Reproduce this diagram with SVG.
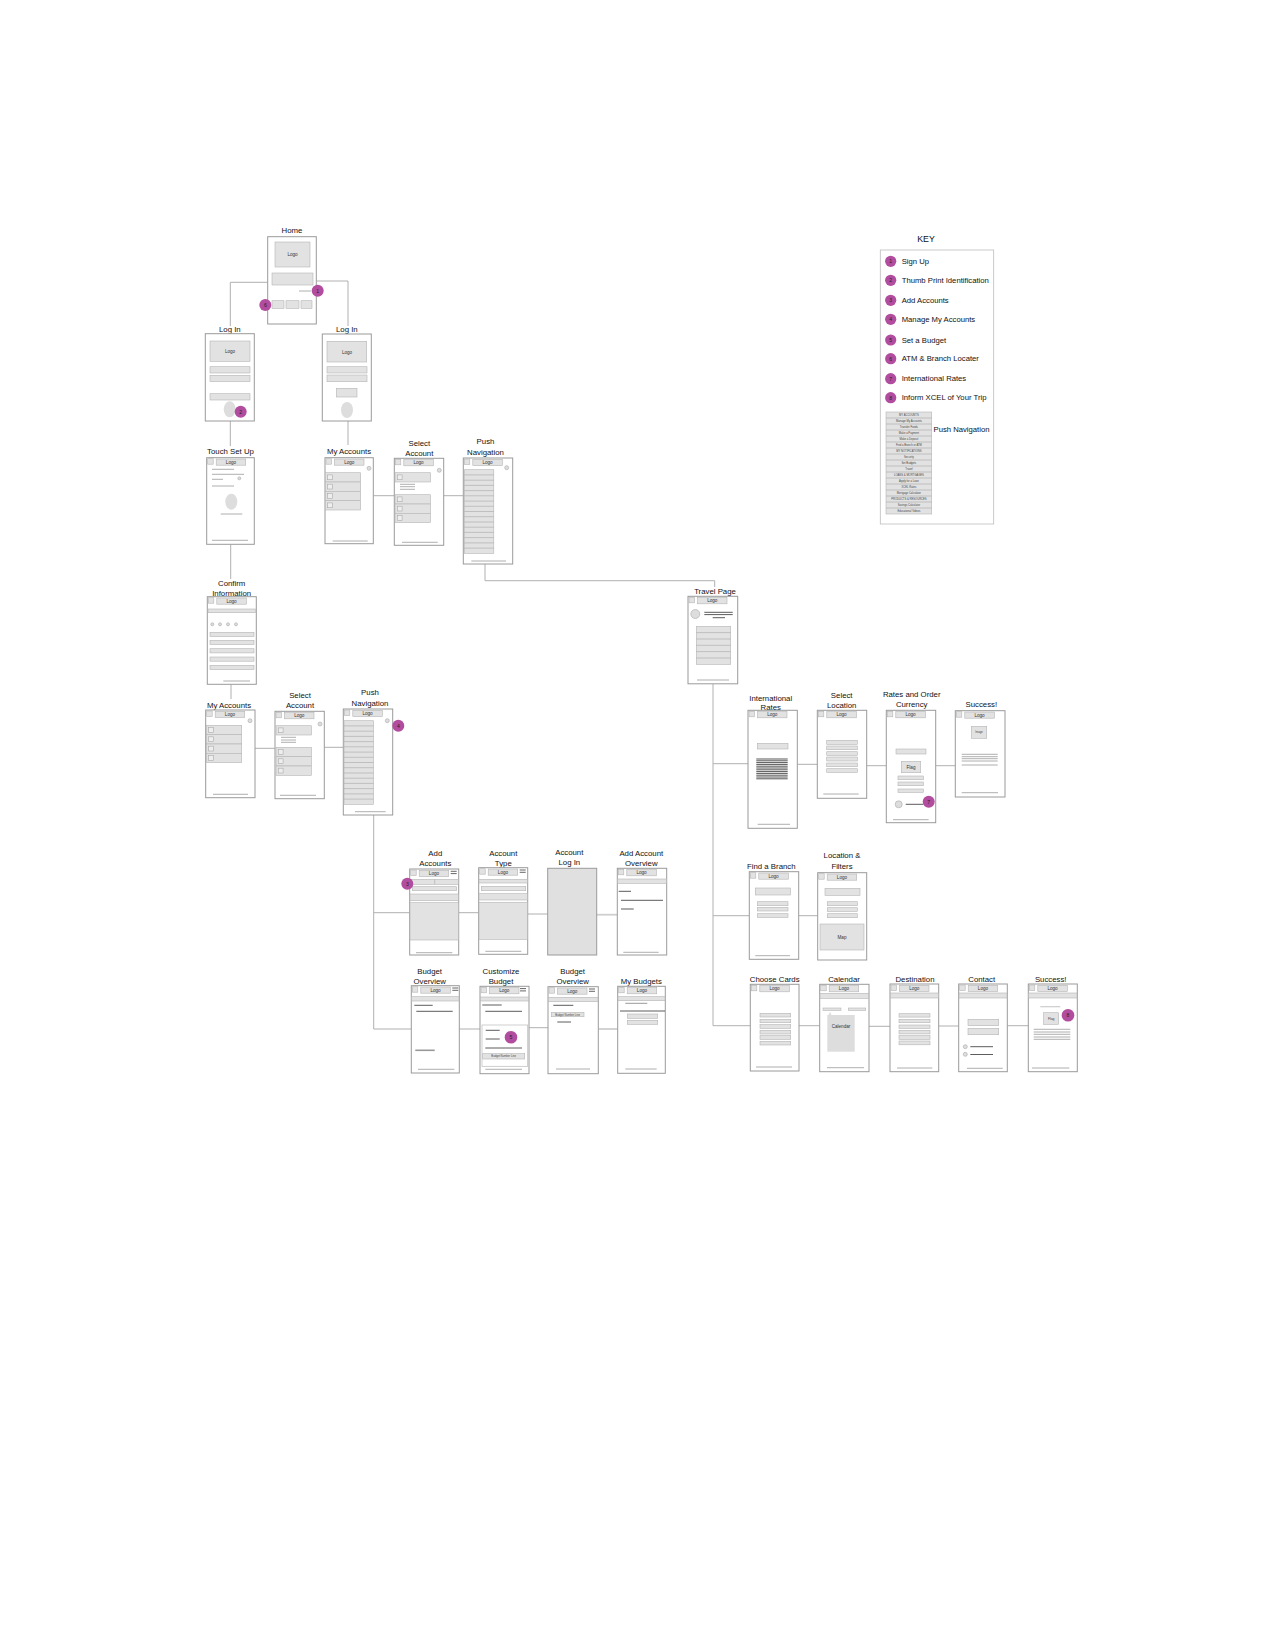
<svg xmlns="http://www.w3.org/2000/svg" xmlns:xlink="http://www.w3.org/1999/xlink" width="1275" height="1650" viewBox="0 0 1275 1650">
<style>
.fr{fill:#fff;stroke:#9a9a9a;stroke-width:1}
.g{fill:#e2e2e2;stroke:#b5b5b5;stroke-width:0.6}
.sep{stroke:#a8a8a8;stroke-width:0.6;fill:none}
.ln{stroke:#9a9a9a;stroke-width:0.8;fill:none}
.dk{stroke:#4a4a4a;stroke-width:0.9;fill:none}
.gl{stroke:#999;stroke-width:1.6;fill:none}
.conn{stroke:#b0b0b0;stroke-width:1;fill:none}
.connw{stroke:#cfcfcf;stroke-width:1.8;fill:none}
.lbl{font-family:"Liberation Sans",Arial,sans-serif;font-size:7.8px;fill:#111;text-anchor:middle}
.lt{font-family:"Liberation Sans",Arial,sans-serif;font-size:4.6px;fill:#333;text-anchor:middle}
.tiny{font-family:"Liberation Sans",Arial,sans-serif;font-size:2.7px;fill:#444;text-anchor:middle}
.bd{fill:#b24c9e}
.bt{font-family:"Liberation Sans",Arial,sans-serif;font-size:5px;fill:#222;text-anchor:middle}
.kt{font-family:"Liberation Sans",Arial,sans-serif;font-size:7.7px;fill:#111}
.gear{fill:#ddd;stroke:#aaa;stroke-width:0.6}
</style>
<defs>
<g id="hdr"><rect x="1" y="1" width="5.5" height="5.5" class="g"/><rect x="9.5" y="1.3" width="29.5" height="6.2" class="g"/><text x="24.25" y="5.9" class="lt">Logo</text></g>
<g id="nav"><rect width="29.5" height="83.6" class="g"/><path class="sep" d="M0,5.2H29.5M0,10.5H29.5M0,15.7H29.5M0,20.9H29.5M0,26.1H29.5M0,31.4H29.5M0,36.6H29.5M0,41.8H29.5M0,47H29.5M0,52.3H29.5M0,57.5H29.5M0,62.7H29.5M0,67.9H29.5M0,73.2H29.5M0,78.4H29.5"/></g>
<g id="row"><rect width="35.4" height="9.3" class="g"/><rect x="2.3" y="2.2" width="4.8" height="4.8" fill="#eee" stroke="#aaa" stroke-width="0.6"/></g>
<g id="hb"><path d="M0,2.3H6M0,4.6H6" stroke="#555" stroke-width="0.9"/></g>
</defs>

<g id="connectors">
<path class="conn" d="M267.7,282.3H230.3V326"/>
<path class="conn" d="M316.3,281H348V326"/>
<path class="conn" d="M230.3,421V446"/>
<path class="conn" d="M348,421V445"/>
<path class="conn" d="M373.3,495.7H394.3"/>
<path class="conn" d="M443.7,495.7H463.3"/>
<path class="conn" d="M485,564V580.7H714.7V587"/>
<path class="conn" d="M230.7,544.3V579"/>
<path class="conn" d="M231,684.3V699"/>
<path class="conn" d="M255,748.3H275"/>
<path class="conn" d="M324.3,747.3H343.3"/>
<path class="conn" d="M373.7,815V1029M373.7,912.7H409.7M373.7,1029H411.3"/>
<path class="conn" d="M458.7,912.7H478.7"/>
<path class="conn" d="M527.7,914H547.7"/>
<path class="connw" d="M596.7,914.7H617.3"/>
<path class="conn" d="M459.3,1029H480"/>
<path class="conn" d="M529,1027.7H548"/>
<path class="connw" d="M598.3,1029H617.7"/>
<path class="conn" d="M713,683.8V1025.7M713,763.7H748M713,915.7H749.3M713,1025.7H750.3"/>
<path class="conn" d="M797.3,764.3H817.3"/>
<path class="conn" d="M866.7,765.7H886.3"/>
<path class="conn" d="M935.7,765.7H955.3"/>
<path class="conn" d="M798.7,915.7H817.7"/>
<path class="conn" d="M799,1025.7H819.7"/>
<path class="conn" d="M869,1026.3H890"/>
<path class="conn" d="M938.7,1026H958.7"/>
<path class="conn" d="M1007.3,1025.7H1028.3"/>
</g>

<g id="home">
<text class="lbl" x="292" y="233">Home</text>
<rect class="fr" x="267.7" y="236.7" width="48.6" height="87.3"/>
<rect class="g" x="275" y="242" width="35" height="25"/><text class="lt" x="292.5" y="256">Logo</text>
<rect class="g" x="272" y="273" width="41" height="12"/>
<path class="ln" d="M299,291H311"/>
<rect class="g" x="272" y="300.7" width="12" height="7.6"/>
<rect class="g" x="286" y="300.7" width="13" height="7.6"/>
<rect class="g" x="301" y="300.7" width="11" height="7.6"/>
<circle class="bd" cx="317.7" cy="290.7" r="6"/><text class="bt" x="317.7" y="292.5">1</text>
<circle class="bd" cx="265.3" cy="305" r="6"/><text class="bt" x="265.3" y="306.8">6</text>
</g>

<g id="login-left">
<text class="lbl" x="229.8" y="331.5">Log In</text>
<rect class="fr" x="205.3" y="333.7" width="49" height="87.3"/>
<rect class="g" x="210" y="341" width="40" height="20.3"/><text class="lt" x="230" y="353">Logo</text>
<rect class="g" x="210" y="366.7" width="40" height="6.3"/>
<rect class="g" x="210" y="375.3" width="40" height="6.3"/>
<rect class="g" x="210" y="393.7" width="40" height="6.3"/>
<ellipse cx="229.7" cy="409.3" rx="6" ry="8" fill="#ddd"/>
<circle class="bd" cx="240.7" cy="411.7" r="6"/><text class="bt" x="240.7" y="413.5">2</text>
</g>

<g id="login-right">
<text class="lbl" x="346.8" y="331.5">Log In</text>
<rect class="fr" x="322.3" y="334" width="49" height="87"/>
<rect class="g" x="327" y="341.3" width="39.7" height="20.7"/><text class="lt" x="347" y="353.5">Logo</text>
<rect class="g" x="327" y="366.7" width="40" height="6.3"/>
<rect class="g" x="327" y="375" width="40" height="6.7"/>
<rect class="g" x="336.3" y="388.3" width="20.7" height="8.7"/>
<ellipse cx="347" cy="410" rx="6" ry="8" fill="#ddd"/>
</g>

<g id="touch-set-up">
<text class="lbl" x="230.5" y="454">Touch Set Up</text>
<rect class="fr" x="206.7" y="457.7" width="47.6" height="86.6"/>
<use href="#hdr" x="206.7" y="457.7"/>
<path class="ln" d="M212,469.3H234M212,474.3H244M212,479.3H223M212,486H234"/>
<circle class="gear" cx="239.3" cy="478.3" r="1.5"/>
<ellipse cx="231.3" cy="501.7" rx="6" ry="8" fill="#ddd"/>
<path class="ln" d="M220.7,514H242.3M212,540.3H248"/>
</g>

<g id="my-accounts-1">
<text class="lbl" x="349" y="454">My Accounts</text>
<rect class="fr" x="325" y="457.7" width="48.3" height="86"/>
<use href="#hdr" x="325" y="457.7"/>
<circle class="gear" cx="369" cy="468.3" r="2"/>
<use href="#row" x="325.3" y="472.7"/><use href="#row" x="325.3" y="482"/><use href="#row" x="325.3" y="491.3"/><use href="#row" x="325.3" y="500.7"/>
<path class="ln" d="M332.7,541H367.7"/>
</g>

<g id="select-account-1">
<text class="lbl" x="419.3" y="445.5">Select</text><text class="lbl" x="419.3" y="455.5">Account</text>
<rect class="fr" x="394.3" y="458.3" width="49.4" height="87"/>
<use href="#hdr" x="394.3" y="458.3"/>
<circle class="gear" cx="439.3" cy="470.3" r="2"/>
<use href="#row" x="395" y="472.7"/>
<path class="ln" d="M400,484.3H415M400,486.7H415M400,489.3H415"/>
<use href="#row" x="395" y="494.7"/><use href="#row" x="395" y="504"/><use href="#row" x="395" y="513.3"/>
<path class="ln" d="M402,542.3H437.7"/>
</g>

<g id="push-navigation-1">
<text class="lbl" x="485.5" y="444">Push</text><text class="lbl" x="485.5" y="454.5">Navigation</text>
<rect class="fr" x="463.3" y="458" width="49.4" height="106"/>
<use href="#hdr" x="463.3" y="458"/>
<circle class="gear" cx="506.7" cy="467.7" r="2"/>
<use href="#nav" x="464.3" y="469.7"/>
<path class="ln" d="M471.3,561H506"/>
</g>

<g id="confirm-information">
<text class="lbl" x="231.7" y="586">Confirm</text><text class="lbl" x="231.7" y="595.5">Information</text>
<rect class="fr" x="207.3" y="596.7" width="49" height="87.6"/>
<use href="#hdr" x="207.3" y="596.7"/>
<rect class="g" x="208" y="609" width="47.3" height="3.7"/>
<circle class="gear" cx="212.3" cy="624.3" r="1.5"/><circle class="gear" cx="220" cy="624.3" r="1.5"/><circle class="gear" cx="228" cy="624.3" r="1.5"/><circle class="gear" cx="236" cy="624.3" r="1.5"/>
<rect class="g" x="210" y="632.3" width="44" height="4.2"/>
<rect class="g" x="210" y="640.3" width="44" height="4.2"/>
<rect class="g" x="210" y="648.7" width="44" height="4.2"/>
<rect class="g" x="210" y="657" width="44" height="4.2"/>
<rect class="g" x="210" y="665.3" width="44" height="4.2"/>
<path class="ln" d="M223.3,681H250"/>
</g>

<g id="my-accounts-2">
<text class="lbl" x="229" y="707.5">My Accounts</text>
<rect class="fr" x="205.7" y="710" width="49.3" height="87.7"/>
<use href="#hdr" x="205.7" y="710"/>
<circle class="gear" cx="250" cy="720.7" r="2"/>
<use href="#row" x="206.3" y="725.3"/><use href="#row" x="206.3" y="734.6"/><use href="#row" x="206.3" y="744"/><use href="#row" x="206.3" y="753.3"/>
<path class="ln" d="M213,794.3H248"/>
</g>

<g id="select-account-2">
<text class="lbl" x="300" y="697.5">Select</text><text class="lbl" x="300" y="708">Account</text>
<rect class="fr" x="275" y="711.3" width="49.3" height="87.4"/>
<use href="#hdr" x="275" y="711.3"/>
<circle class="gear" cx="320" cy="724" r="2"/>
<use href="#row" x="276" y="725.7"/>
<path class="ln" d="M281,737.3H296M281,740H296M281,742.3H296"/>
<use href="#row" x="276" y="747.3"/><use href="#row" x="276" y="756.6"/><use href="#row" x="276" y="766"/>
<path class="ln" d="M280,795.3H316"/>
</g>

<g id="push-navigation-2">
<text class="lbl" x="370" y="694.5">Push</text><text class="lbl" x="370" y="705.5">Navigation</text>
<rect class="fr" x="343.3" y="709" width="49.4" height="106"/>
<use href="#hdr" x="343.3" y="709"/>
<circle class="gear" cx="387.3" cy="720.7" r="2"/>
<use href="#nav" x="344" y="720.7"/>
<path class="ln" d="M355,811.7H385.7"/>
<circle class="bd" cx="398.3" cy="725.7" r="6"/><text class="bt" x="398.3" y="727.5">4</text>
</g>

<g id="add-accounts">
<text class="lbl" x="435.3" y="855.5">Add</text><text class="lbl" x="435.3" y="865.5">Accounts</text>
<rect class="fr" x="409.7" y="869" width="49" height="86"/>
<use href="#hdr" x="409.7" y="869"/>
<use href="#hb" x="450.7" y="869"/>
<rect class="g" x="410" y="879.3" width="48.4" height="5"/>
<path class="sep" d="M434.7,879.3V884.3"/>
<rect class="g" x="412.3" y="886.7" width="44.4" height="4"/>
<rect class="g" x="410" y="894" width="48.4" height="6.7"/>
<rect class="g" x="410" y="902.7" width="48.4" height="37.3"/>
<path class="ln" d="M416,952.7H452.3"/>
<circle class="bd" cx="407.3" cy="883.7" r="6"/><text class="bt" x="407.3" y="885.5">3</text>
</g>

<g id="account-type">
<text class="lbl" x="503.3" y="855.5">Account</text><text class="lbl" x="503.3" y="865.5">Type</text>
<rect class="fr" x="478.7" y="867.7" width="49" height="86.6"/>
<use href="#hdr" x="478.7" y="867.7"/>
<use href="#hb" x="519.7" y="867.7"/>
<rect class="g" x="479" y="879.3" width="48.4" height="3.7"/>
<rect class="g" x="481.3" y="886.3" width="44.4" height="4.4"/>
<rect class="g" x="479" y="893.7" width="48.4" height="6.3"/>
<rect class="g" x="479" y="902.3" width="48.4" height="37"/>
<path class="ln" d="M485.3,951.3H521.3"/>
</g>

<g id="account-log-in">
<text class="lbl" x="569.3" y="855">Account</text><text class="lbl" x="569.3" y="864.5">Log In</text>
<rect x="547.7" y="868.3" width="49" height="86.7" fill="#e0e0e0" stroke="#9a9a9a" stroke-width="1"/>
</g>

<g id="add-account-overview">
<text class="lbl" x="641.3" y="855.5">Add Account</text><text class="lbl" x="641.3" y="865.5">Overview</text>
<rect class="fr" x="617.3" y="868.3" width="49.4" height="86.7"/>
<use href="#hdr" x="617.3" y="868.3"/>
<rect class="g" x="617.6" y="879" width="48.8" height="4.3"/>
<path class="dk" d="M618.7,891.3H631M621,900.3H663"/>
<path class="gl" d="M621,909H633.7"/>
<path class="ln" d="M623.3,952.3H658.7"/>
</g>

<g id="budget-overview-1">
<text class="lbl" x="429.7" y="974">Budget</text><text class="lbl" x="429.7" y="983.5">Overview</text>
<rect class="fr" x="411.3" y="985.7" width="48" height="87.3"/>
<use href="#hdr" x="411.3" y="985.7"/>
<use href="#hb" x="452.3" y="985.7"/>
<rect class="g" x="411.6" y="996.7" width="47.4" height="4.3"/>
<path class="dk" d="M414.3,1005.3H432.7M416.3,1011.3H452.7"/>
<path class="gl" d="M415.3,1050.3H434.7"/>
<path class="ln" d="M418,1069.3H454.3"/>
</g>

<g id="customize-budget">
<text class="lbl" x="501" y="974">Customize</text><text class="lbl" x="501" y="983.5">Budget</text>
<rect class="fr" x="480" y="986.3" width="49" height="87.4"/>
<use href="#hdr" x="480" y="986.3"/>
<use href="#hb" x="520" y="986.3"/>
<rect class="g" x="480.3" y="997" width="48.4" height="4"/>
<path class="dk" d="M482.3,1005H501.7M485.3,1011.3H522"/>
<rect x="482" y="1025" width="45.7" height="41.3" fill="#fff" stroke="#bbb" stroke-width="0.7"/>
<path class="dk" d="M485.7,1030.3H499.7M485.7,1039H499.7M485.3,1048H522"/>
<rect class="g" x="482.7" y="1053.7" width="42" height="5.3"/><text class="tiny" x="503.7" y="1057.4">Budget Number Line</text>
<path class="ln" d="M485.3,1069.3H522"/>
<circle class="bd" cx="511" cy="1037.3" r="6.3"/><text class="bt" x="511" y="1039.1">5</text>
</g>

<g id="budget-overview-2">
<text class="lbl" x="572.7" y="974">Budget</text><text class="lbl" x="572.7" y="983.5">Overview</text>
<rect class="fr" x="548" y="986.7" width="50.3" height="87"/>
<use href="#hdr" x="548" y="986.7"/>
<use href="#hb" x="589" y="986.7"/>
<rect class="g" x="548.3" y="997.3" width="49.7" height="4.4"/>
<path class="dk" d="M553.3,1005.3H573.3M557.3,1022H571"/>
<rect class="g" x="551.3" y="1012.3" width="32.7" height="4.4"/><text class="tiny" x="567.6" y="1015.5">Budget Number Line</text>
<path class="ln" d="M556,1069H590"/>
</g>

<g id="my-budgets">
<text class="lbl" x="641.3" y="983.5">My Budgets</text>
<rect class="fr" x="617.7" y="986.3" width="47.6" height="87"/>
<use href="#hdr" x="617.7" y="986.3"/>
<rect class="g" x="618" y="996.7" width="47" height="4"/>
<path class="gl" d="M625.3,1003.3H647.3" style="stroke-width:1"/>
<path class="dk" d="M620,1011H665"/>
<rect class="g" x="627.3" y="1014" width="30.4" height="4.3"/>
<rect class="g" x="627.3" y="1020.3" width="30.4" height="4"/>
<path class="ln" d="M625.3,1069H656.7"/>
</g>

<g id="travel-page">
<text class="lbl" x="715" y="594">Travel Page</text>
<rect class="fr" x="688" y="596.3" width="49.7" height="87.5"/>
<use href="#hdr" x="688" y="596.3"/>
<circle cx="695.3" cy="614" r="4.5" fill="#ddd" stroke="#aaa" stroke-width="0.6"/>
<path class="dk" d="M704.3,612.3H732.7M704.3,614.6H732.7M712.7,617.7H725"/>
<rect class="g" x="696.3" y="626.3" width="34.4" height="38"/>
<path class="sep" d="M696.3,632.6H730.7M696.3,639H730.7M696.3,645.3H730.7M696.3,651.6H730.7M696.3,658H730.7"/>
<path class="ln" d="M697,680H729"/>
</g>

<g id="international-rates">
<text class="lbl" x="770.7" y="700.5">International</text><text class="lbl" x="770.7" y="709.5">Rates</text>
<rect class="fr" x="748" y="710.3" width="49.3" height="118"/>
<use href="#hdr" x="748" y="710.3"/>
<rect class="g" x="757.3" y="743.3" width="30.7" height="5.7"/>
<path stroke="#444" stroke-width="0.9" fill="none" d="M756.3,759H787.7M756.3,760.8H787.7M756.3,762.6H787.7M756.3,764.4H787.7M756.3,766.2H787.7M756.3,768H787.7M756.3,769.8H787.7M756.3,771.6H787.7M756.3,773.4H787.7M756.3,775.2H787.7M756.3,777H787.7M756.3,778.8H787.7"/>
<path class="ln" d="M757.7,824.3H790"/>
</g>

<g id="select-location">
<text class="lbl" x="841.7" y="697.5">Select</text><text class="lbl" x="841.7" y="708">Location</text>
<rect class="fr" x="817.3" y="710.3" width="49.4" height="88"/>
<use href="#hdr" x="817.3" y="710.3"/>
<rect class="g" x="826.7" y="740.3" width="30.6" height="4"/>
<rect class="g" x="826.7" y="746" width="30.6" height="3.7"/>
<rect class="g" x="826.7" y="751.7" width="30.6" height="3.6"/>
<rect class="g" x="826.7" y="757" width="30.6" height="4"/>
<rect class="g" x="826.7" y="763" width="30.6" height="3.7"/>
<rect class="g" x="826.7" y="768.7" width="30.6" height="3.6"/>
<path class="ln" d="M823.3,794H858.7"/>
</g>

<g id="rates-and-order-currency">
<text class="lbl" x="911.7" y="696.5">Rates and Order</text><text class="lbl" x="911.7" y="706.5">Currency</text>
<rect class="fr" x="886.3" y="710.3" width="49.4" height="112.4"/>
<use href="#hdr" x="886.3" y="710.3"/>
<rect class="g" x="896" y="749" width="30" height="5"/>
<rect class="g" x="901.3" y="761.3" width="19.4" height="11.4"/><text class="lt" x="911" y="768.7">Flag</text>
<rect class="g" x="898" y="776" width="25.3" height="3.7"/>
<rect class="g" x="898" y="782" width="25.3" height="3.7"/>
<rect class="g" x="898" y="789" width="25.3" height="3.3"/>
<circle cx="898.7" cy="804.3" r="3.5" fill="#ddd" stroke="#aaa" stroke-width="0.6"/>
<path class="dk" d="M905.7,804.3H923.3"/>
<path class="ln" d="M893,819.7H928.7"/>
<circle class="bd" cx="928.7" cy="801.7" r="6"/><text class="bt" x="928.7" y="803.5">7</text>
</g>

<g id="success-1">
<text class="lbl" x="981.3" y="706.5">Success!</text>
<rect class="fr" x="955.3" y="710.7" width="49.7" height="86.3"/>
<use href="#hdr" x="955.3" y="710.7"/>
<rect class="g" x="971.3" y="726.3" width="15.4" height="12"/><text class="tiny" x="979" y="733.2">Image</text>
<path class="ln" d="M961.7,754.3H997.7M961.7,756.7H997.7M961.7,758.7H997.7M961.7,761H997.7M961.7,765H997.7"/>
<path class="ln" d="M961.7,792.7H998"/>
</g>

<g id="find-a-branch">
<text class="lbl" x="771.3" y="869">Find a Branch</text>
<rect class="fr" x="749.3" y="871.7" width="49.4" height="87.6"/>
<use href="#hdr" x="749.3" y="871.7"/>
<rect class="g" x="755.3" y="888" width="35" height="7"/>
<rect class="g" x="757.3" y="901.7" width="30.7" height="4"/>
<rect class="g" x="757.3" y="907.3" width="30.7" height="3.7"/>
<rect class="g" x="757.3" y="913.7" width="30.7" height="3.6"/>
<path class="ln" d="M755.3,955.7H790"/>
</g>

<g id="location-filters">
<text class="lbl" x="842" y="858">Location &amp;</text><text class="lbl" x="842" y="868.5">Filters</text>
<rect class="fr" x="817.7" y="872.7" width="49" height="87.3"/>
<use href="#hdr" x="817.7" y="872.7"/>
<rect class="g" x="825" y="888.3" width="35" height="7"/>
<rect class="g" x="827.3" y="901.7" width="30" height="4"/>
<rect class="g" x="827.3" y="907.7" width="30" height="3.6"/>
<rect class="g" x="827.3" y="913.7" width="30" height="4"/>
<rect class="g" x="820" y="924" width="44" height="26"/><text class="lt" x="842" y="938.5">Map</text>
</g>

<g id="choose-cards">
<text class="lbl" x="774.7" y="981.5">Choose Cards</text>
<rect class="fr" x="750.3" y="984.3" width="48.7" height="86.7"/>
<use href="#hdr" x="750.3" y="984.3"/>
<rect class="g" x="760" y="1013.3" width="30.7" height="3.7"/>
<rect class="g" x="760" y="1019.3" width="30.7" height="3.4"/>
<rect class="g" x="760" y="1024.7" width="30.7" height="3.6"/>
<rect class="g" x="760" y="1030.3" width="30.7" height="3.7"/>
<rect class="g" x="760" y="1035.7" width="30.7" height="3.6"/>
<rect class="g" x="760" y="1041.3" width="30.7" height="3.7"/>
<path class="ln" d="M756,1067H792"/>
</g>

<g id="calendar">
<text class="lbl" x="844" y="981.5">Calendar</text>
<rect class="fr" x="819.7" y="984.3" width="49.3" height="87.4"/>
<use href="#hdr" x="819.7" y="984.3"/>
<rect class="g" x="820" y="993.3" width="48.7" height="5"/>
<rect class="g" x="823" y="1008" width="18" height="2.3"/>
<rect class="g" x="848.3" y="1008" width="17.4" height="2.3"/>
<path d="M828.5,1015L830,1011.8L831.5,1015Z" fill="#ddd"/>
<rect x="827.3" y="1015" width="27.4" height="36.7" fill="#ddd"/>
<text class="lt" x="841" y="1028">Calendar</text>
<path class="ln" d="M827,1067.7H864"/>
</g>

<g id="destination">
<text class="lbl" x="915" y="981.5">Destination</text>
<rect class="fr" x="890" y="984" width="48.7" height="87.7"/>
<use href="#hdr" x="890" y="984"/>
<rect class="g" x="890.3" y="993" width="48.1" height="5"/>
<rect class="g" x="899" y="1013.7" width="31" height="3.4"/>
<rect class="g" x="899" y="1019.3" width="31" height="3.4"/>
<rect class="g" x="899" y="1025" width="31" height="3.4"/>
<rect class="g" x="899" y="1030.3" width="31" height="3.6"/>
<rect class="g" x="899" y="1035.7" width="31" height="3.6"/>
<rect class="g" x="899" y="1041" width="31" height="3.8"/>
<path class="ln" d="M897,1068H932.3"/>
</g>

<g id="contact">
<text class="lbl" x="981.7" y="981.5">Contact</text>
<rect class="fr" x="958.7" y="984" width="48.6" height="87.7"/>
<use href="#hdr" x="958.7" y="984"/>
<rect class="g" x="959" y="993" width="48" height="5"/>
<rect class="g" x="968" y="1019.3" width="30.7" height="6.4"/>
<rect class="g" x="968" y="1028.3" width="30.7" height="6.4"/>
<circle class="gear" cx="965.3" cy="1046.7" r="2"/><circle class="gear" cx="965.3" cy="1054.3" r="2"/>
<path class="dk" d="M970.3,1046.7H993M970.3,1054.5H993"/>
<path class="ln" d="M967,1068.3H1002.7"/>
</g>

<g id="success-2">
<text class="lbl" x="1050.7" y="981.5">Success!</text>
<rect class="fr" x="1028.3" y="984" width="49" height="87.7"/>
<use href="#hdr" x="1028.3" y="984"/>
<rect class="g" x="1028.6" y="993" width="48.4" height="5"/>
<path class="ln" d="M1040.3,1006.7H1060.3" style="stroke:#ccc;stroke-width:1.2"/>
<rect class="g" x="1043.7" y="1012.7" width="15" height="11.6"/><text class="tiny" x="1051.2" y="1019.5" style="font-size:3.4px">Flag</text>
<path class="ln" d="M1033.7,1029.3H1070.3M1033.7,1032H1070.3M1033.7,1034.3H1070.3M1033.7,1037H1070.3M1033.7,1039.3H1070.3"/>
<path class="ln" d="M1032,1068H1069.3"/>
<circle class="bd" cx="1068" cy="1015.3" r="6.3"/><text class="bt" x="1068" y="1017.1">8</text>
</g>

<g id="key">
<text x="926" y="241.5" style="font-family:'Liberation Sans',Arial,sans-serif;font-size:8.8px;fill:#111;text-anchor:middle">KEY</text>
<rect x="880.3" y="250" width="113.4" height="274" fill="#fff" stroke="#bdbdbd" stroke-width="0.8"/>
<circle class="bd" cx="890.7" cy="261.3" r="5.6"/><text class="bt" x="890.7" y="263.1">1</text><text class="kt" x="901.7" y="264">Sign Up</text>
<circle class="bd" cx="890.7" cy="280.3" r="5.6"/><text class="bt" x="890.7" y="282.1">2</text><text class="kt" x="901.7" y="283">Thumb Print Identification</text>
<circle class="bd" cx="890.7" cy="300.3" r="5.6"/><text class="bt" x="890.7" y="302.1">3</text><text class="kt" x="901.7" y="303">Add Accounts</text>
<circle class="bd" cx="890.7" cy="319.3" r="5.6"/><text class="bt" x="890.7" y="321.1">4</text><text class="kt" x="901.7" y="322">Manage My Accounts</text>
<circle class="bd" cx="890.7" cy="340" r="5.6"/><text class="bt" x="890.7" y="341.8">5</text><text class="kt" x="901.7" y="342.7">Set a Budget</text>
<circle class="bd" cx="890.7" cy="358.7" r="5.6"/><text class="bt" x="890.7" y="360.5">6</text><text class="kt" x="901.7" y="361.4">ATM &amp; Branch Locater</text>
<circle class="bd" cx="890.7" cy="378.7" r="5.6"/><text class="bt" x="890.7" y="380.5">7</text><text class="kt" x="901.7" y="381.4">International Rates</text>
<circle class="bd" cx="890.7" cy="397.7" r="5.6"/><text class="bt" x="890.7" y="399.5">8</text><text class="kt" x="901.7" y="400.4">Inform XCEL of Your Trip</text>
<rect class="g" x="886" y="412" width="45.7" height="102"/>
<path class="sep" d="M886,418H931.7M886,424H931.7M886,430H931.7M886,436H931.7M886,442H931.7M886,448H931.7M886,454H931.7M886,460H931.7M886,466H931.7M886,472H931.7M886,478H931.7M886,484H931.7M886,490H931.7M886,496H931.7M886,502H931.7M886,508H931.7"/>
<text class="tiny" x="908.9" y="416">MY ACCOUNTS</text>
<text class="tiny" x="908.9" y="422">Manage My Accounts</text>
<text class="tiny" x="908.9" y="428">Transfer Funds</text>
<text class="tiny" x="908.9" y="434">Make a Payment</text>
<text class="tiny" x="908.9" y="440">Make a Deposit</text>
<text class="tiny" x="908.9" y="446">Find a Branch or ATM</text>
<text class="tiny" x="908.9" y="452">MY NOTIFICATIONS</text>
<text class="tiny" x="908.9" y="458">Security</text>
<text class="tiny" x="908.9" y="464">Set Budgets</text>
<text class="tiny" x="908.9" y="470">Travel</text>
<text class="tiny" x="908.9" y="476">LOANS &amp; MORTGAGES</text>
<text class="tiny" x="908.9" y="482">Apply for a Loan</text>
<text class="tiny" x="908.9" y="488">XCEL Rates</text>
<text class="tiny" x="908.9" y="494">Mortgage Calculator</text>
<text class="tiny" x="908.9" y="500">PRODUCTS &amp; RESOURCES</text>
<text class="tiny" x="908.9" y="506">Savings Calculator</text>
<text class="tiny" x="908.9" y="512">Educational Videos</text>
<text class="kt" x="933.5" y="432">Push Navigation</text>
</g>
</svg>
